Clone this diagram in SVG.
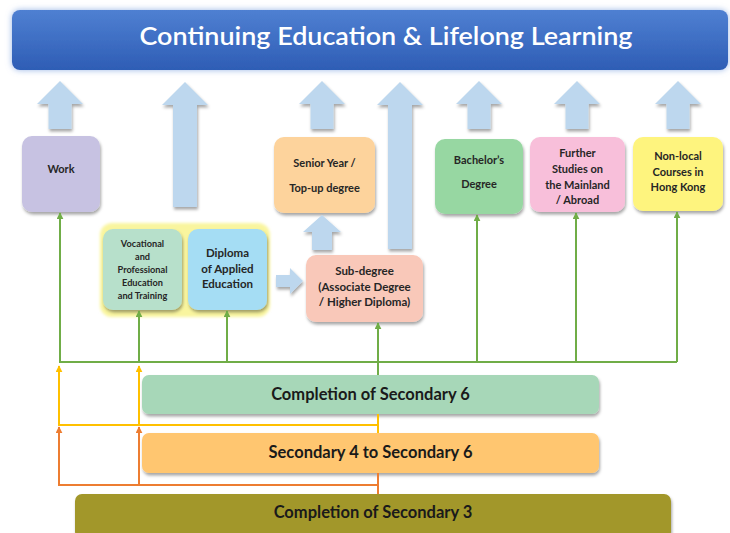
<svg xmlns="http://www.w3.org/2000/svg" width="730" height="533" viewBox="0 0 730 533">
<defs>
<linearGradient id="bannerGrad" x1="0" y1="0" x2="0" y2="1">
<stop offset="0" stop-color="#4F80D2"/>
<stop offset="1" stop-color="#2E5DB5"/>
</linearGradient>
<filter id="sh" x="-20%" y="-20%" width="140%" height="150%">
<feDropShadow dx="1" dy="2.5" stdDeviation="1.5" flood-color="#000" flood-opacity="0.35"/>
</filter>
<filter id="glow" x="-10%" y="-30%" width="120%" height="160%">
<feDropShadow dx="0" dy="0" stdDeviation="3" flood-color="#7FA3E0" flood-opacity="0.8"/>
</filter>
<filter id="yglow" x="-10%" y="-10%" width="120%" height="120%">
<feGaussianBlur stdDeviation="1.5"/>
</filter>
<marker id="mg" viewBox="0 0 10 10" refX="9" refY="5" markerWidth="7" markerHeight="7" markerUnits="userSpaceOnUse" orient="auto">
<path d="M0 0 L10 5 L0 10 Z" fill="#70AD47"/>
</marker>
<marker id="my" viewBox="0 0 10 10" refX="9" refY="5" markerWidth="7" markerHeight="7" markerUnits="userSpaceOnUse" orient="auto">
<path d="M0 0 L10 5 L0 10 Z" fill="#FFC000"/>
</marker>
<marker id="mo" viewBox="0 0 10 10" refX="9" refY="5" markerWidth="7" markerHeight="7" markerUnits="userSpaceOnUse" orient="auto">
<path d="M0 0 L10 5 L0 10 Z" fill="#ED7D31"/>
</marker>
</defs>
<style>
text{font-family:Lato,"Liberation Sans",sans-serif;font-weight:bold;fill:#262626;text-anchor:middle}
.box{filter:url(#sh)}
.sm{font-size:11px}
.md{font-size:11.5px}
.xs{font-size:9.2px}
.big{font-size:16.5px;fill:#1a1a1a}
.blk{fill:#BDD7EE;filter:url(#sh)}
.g{stroke:#70AD47;stroke-width:2;fill:none}
.y{stroke:#FFC000;stroke-width:2;fill:none}
.o{stroke:#ED7D31;stroke-width:2;fill:none}
</style>

<g id="banner">
<rect x="12" y="10" width="716" height="60" rx="8" fill="url(#bannerGrad)" filter="url(#glow)"/>
<text x="386" y="45" style="font-size:24px;fill:#fff;font-weight:600" textLength="493" lengthAdjust="spacingAndGlyphs">Continuing Education &amp; Lifelong Learning</text>
</g>

<g id="work">
<rect class="box" x="22" y="136" width="78" height="76" rx="10" fill="#C7C2E2"/>
<text class="sm" x="61" y="173">Work</text>
</g>

<g id="vocational-group">
<rect x="100" y="223" width="170" height="94" rx="12" fill="#F9F59E" filter="url(#yglow)"/>
</g>

<g id="vocational">
<rect class="box" x="103" y="229" width="79" height="81" rx="10" fill="#B7E0CB"/>
<text class="xs" x="142.5" y="247">Vocational</text>
<text class="xs" x="142.5" y="260">and</text>
<text class="xs" x="142.5" y="273">Professional</text>
<text class="xs" x="142.5" y="286">Education</text>
<text class="xs" x="142.5" y="299">and Training</text>
</g>

<g id="diploma">
<rect class="box" x="188" y="229" width="79" height="81" rx="10" fill="#A5DDF4"/>
<text class="md" x="227.5" y="257">Diploma</text>
<text class="md" x="227.5" y="273">of Applied</text>
<text class="md" x="227.5" y="288">Education</text>
</g>

<g id="senior-year">
<rect class="box" x="274" y="137" width="101" height="76" rx="10" fill="#FDD39C"/>
<text class="sm" x="324.5" y="167">Senior Year /</text>
<text class="sm" x="324.5" y="192">Top-up degree</text>
</g>

<g id="sub-degree">
<rect class="box" x="306" y="255" width="117" height="67" rx="10" fill="#F9C8B9"/>
<text class="md" x="364.5" y="275">Sub-degree</text>
<text class="md" x="364.5" y="291">(Associate Degree</text>
<text class="md" x="364.5" y="306">/ Higher Diploma)</text>
</g>

<g id="bachelor">
<rect class="box" x="435" y="139" width="88" height="75" rx="10" fill="#97D7A2"/>
<text class="sm" x="479" y="164">Bachelor’s</text>
<text class="sm" x="479" y="188">Degree</text>
</g>

<g id="further-studies">
<rect class="box" x="530" y="137" width="95" height="75" rx="10" fill="#F8BFDA"/>
<text class="sm" x="577.5" y="157">Further</text>
<text class="sm" x="577.5" y="173">Studies on</text>
<text class="sm" x="577.5" y="189">the Mainland</text>
<text class="sm" x="577.5" y="204">/ Abroad</text>
</g>

<g id="non-local">
<rect class="box" x="633" y="137" width="90" height="74" rx="10" fill="#FEF47E"/>
<text class="sm" x="678" y="160">Non-local</text>
<text class="sm" x="678" y="176">Courses in</text>
<text class="sm" x="678" y="191">Hong Kong</text>
</g>

<g id="completion-s6">
<rect class="box" x="142" y="375" width="457" height="39" rx="7" fill="#A7D7B8"/>
<text class="big" x="370.5" y="400">Completion of Secondary 6</text>
</g>

<g id="secondary-4-6">
<rect class="box" x="142" y="433" width="457" height="40" rx="7" fill="#FFC66F"/>
<text class="big" x="370.5" y="458">Secondary 4 to Secondary 6</text>
</g>

<g id="completion-s3">
<rect class="box" x="75" y="494" width="596" height="45" rx="7" fill="#A2972A"/>
<text class="big" x="373" y="518">Completion of Secondary 3</text>
</g>

<g id="connectors">
<g id="block-arrows">
<path class="blk" d="M60 81 L83 104 L71.5 104 L71.5 129 L48.5 129 L48.5 104 L37 104 Z"/>
<path class="blk" d="M185 82 L208 105 L197 105 L197 207 L173 207 L173 105 L162 105 Z"/>
<path class="blk" d="M322 81 L345 104 L333.5 104 L333.5 129 L310.5 129 L310.5 104 L299 104 Z"/>
<path class="blk" d="M400 82 L423 105 L412 105 L412 249 L388 249 L388 105 L377 105 Z"/>
<path class="blk" d="M479 81 L502 104 L490.5 104 L490.5 129 L467.5 129 L467.5 104 L456 104 Z"/>
<path class="blk" d="M577 81 L600 104 L588.5 104 L588.5 129 L565.5 129 L565.5 104 L554 104 Z"/>
<path class="blk" d="M678 81 L701 104 L689.5 104 L689.5 129 L666.5 129 L666.5 104 L655 104 Z"/>
<path class="blk" d="M322 215 L341 232 L332 232 L332 250 L312 250 L312 232 L303 232 Z"/>
<path class="blk" d="M303 281 L290 268 L290 275 L276 275 L276 287 L290 287 L290 294 Z"/>
</g>
<g id="green-lines">
<path class="g" d="M59 362 H677"/>
<path class="g" d="M60 362 V213" marker-end="url(#mg)"/>
<path class="g" d="M139 362 V311" marker-end="url(#mg)"/>
<path class="g" d="M227 362 V311" marker-end="url(#mg)"/>
<path class="g" d="M477 362 V215" marker-end="url(#mg)"/>
<path class="g" d="M576 362 V213" marker-end="url(#mg)"/>
<path class="g" d="M677 362 V212" marker-end="url(#mg)"/>
<path class="g" d="M378 375 V323" marker-end="url(#mg)"/>
</g>
<g id="yellow-lines">
<path class="y" d="M378 433 V414"/>
<path class="y" d="M378 425 H59 V366" marker-end="url(#my)"/>
<path class="y" d="M139 425 V366" marker-end="url(#my)"/>
</g>
<g id="orange-lines">
<path class="o" d="M378 494 V473"/>
<path class="o" d="M378 485 H59 V427" marker-end="url(#mo)"/>
<path class="o" d="M139 485 V427" marker-end="url(#mo)"/>
</g>
</g>
</svg>
